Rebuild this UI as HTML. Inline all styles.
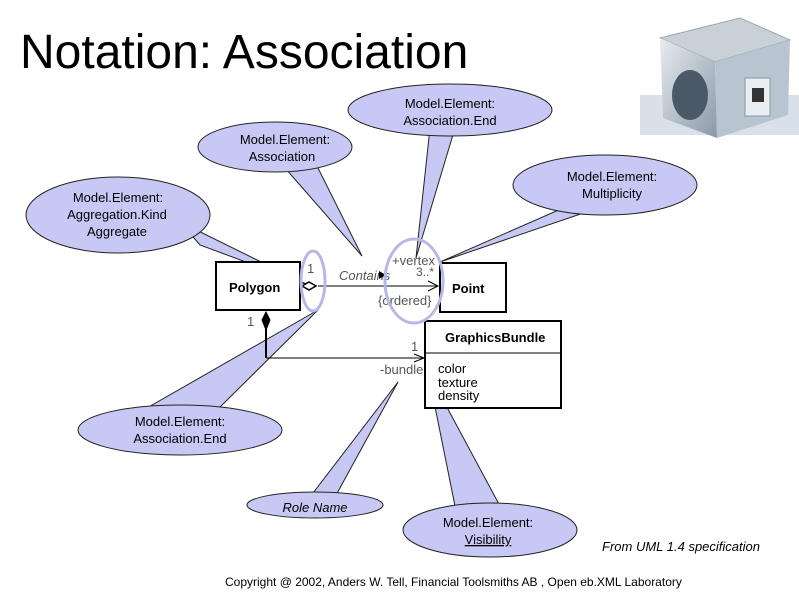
<!DOCTYPE html>
<html><head><style>
body{margin:0;background:#fff;}
svg{display:block;font-family:"Liberation Sans",sans-serif;}
</style></head><body>
<svg width="799" height="598" viewBox="0 0 799 598" xmlns="http://www.w3.org/2000/svg">
<defs>
<linearGradient id="cb" x1="0" y1="0" x2="1" y2="1"><stop offset="0" stop-color="#e8ecf0"/><stop offset="1" stop-color="#8a98a8"/></linearGradient>
</defs>
<text x="20" y="68" font-size="48" fill="#000">Notation: Association</text>
<!-- cube -->
<rect x="640" y="95" width="159" height="40" fill="#d8e0ea"/>
<polygon points="660,38 740,18 790,40 715,62" fill="#c8d0d8" stroke="#9aa" />
<polygon points="660,38 715,62 717,138 663,118" fill="url(#cb)"/>
<polygon points="715,62 790,40 788,115 717,138" fill="#b8c4d0"/>
<ellipse cx="690" cy="95" rx="18" ry="25" fill="#4a5868"/>
<rect x="745" y="78" width="25" height="38" fill="#e8eef2" stroke="#8a96a2"/>
<rect x="752" y="88" width="12" height="14" fill="#333"/>
<g stroke="#222" stroke-width="1" fill="#c8c8f4">
<polygon points="430,128 455,128 416,258"/>
<ellipse cx="450" cy="110" rx="102" ry="26"/>
<polygon points="285,168 318,168 362,256"/>
<ellipse cx="275" cy="147" rx="77" ry="25"/>
<polygon points="570,205 598,208 440,262"/>
<ellipse cx="605" cy="185" rx="92" ry="30"/>
<polygon points="180,222 200,245 308,285"/>
<ellipse cx="118" cy="215" rx="92" ry="38"/>
<polygon points="140,412 215,412 318,310"/>
<ellipse cx="180" cy="430" rx="102" ry="25"/>
<polygon points="310,497 335,497 398,382"/>
<ellipse cx="315" cy="505" rx="68" ry="13"/>
<polygon points="455,506 500,506 428,372"/>
<ellipse cx="490" cy="530" rx="87" ry="27"/>
</g>
<g font-size="13" fill="#000" text-anchor="middle">
<text x="450" y="108">Model.Element:</text><text x="450" y="125">Association.End</text>
<text x="285" y="144">Model.Element:</text><text x="282" y="161">Association</text>
<text x="612" y="181">Model.Element:</text><text x="612" y="198">Multiplicity</text>
<text x="118" y="202">Model.Element:</text><text x="117" y="219">Aggregation.Kind</text><text x="117" y="236">Aggregate</text>
<text x="180" y="426">Model.Element:</text><text x="180" y="443">Association.End</text>
<text x="315" y="512" font-style="italic">Role Name</text>
<text x="488" y="527">Model.Element:</text><text x="488" y="544" text-decoration="underline">Visibility</text>
</g>
<g stroke="#000" fill="#fff">
<rect x="216" y="262" width="84" height="48" stroke-width="2"/>
<rect x="440" y="263" width="66" height="49" stroke-width="2"/>
<rect x="425" y="321" width="136" height="87" stroke-width="2"/>
<line x1="425" y1="353" x2="561" y2="353" stroke-width="1"/>
<line x1="318" y1="286" x2="438" y2="286"/>
<polyline points="428,281 438,286 428,291" fill="none"/>
<polygon points="302,286 309,282 316,286 309,290" stroke-width="1.5"/>
<line x1="266" y1="328" x2="266" y2="358" stroke-width="2"/>
<polygon points="266,312 270,320 266,330 262,320" fill="#000"/>
<line x1="266" y1="358" x2="424" y2="358"/>
<polyline points="414,354 424,358 414,362" fill="none"/>
</g>
<g font-size="13" fill="#000">
<text x="229" y="292" font-weight="bold">Polygon</text>
<text x="452" y="293" font-weight="bold">Point</text>
<text x="445" y="342" font-weight="bold">GraphicsBundle</text>
<text x="438" y="373">color</text><text x="438" y="387">texture</text><text x="438" y="400">density</text>
<text x="307" y="273" fill="#555">1</text>
<text x="247" y="326" fill="#555">1</text>
<text x="339" y="280" font-style="italic" fill="#555">Contains</text>
<polygon points="379,271 386,275 379,279" fill="#000"/>
<text x="392" y="265" fill="#555">+vertex</text>
<text x="416" y="276" fill="#555" font-size="12">3..*</text>
<text x="378" y="305" fill="#555">{ordered}</text>
<text x="411" y="351" fill="#555">1</text>
<text x="380" y="374" fill="#555">-bundle</text>
</g>
<g fill="none" stroke="#b8b8e8" stroke-width="3">
<ellipse cx="313" cy="281" rx="12" ry="30"/>
<ellipse cx="414" cy="281" rx="29" ry="42"/>
</g>
<text x="602" y="551" font-size="13" font-style="italic">From UML 1.4 specification</text>
<text x="225" y="586" font-size="12">Copyright @ 2002, Anders W. Tell, Financial Toolsmiths AB , Open eb.XML Laboratory</text>
</svg>
</body></html>
